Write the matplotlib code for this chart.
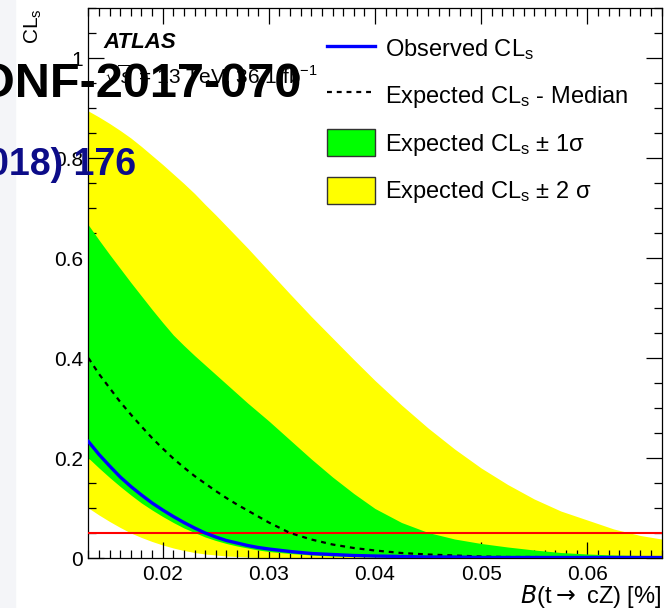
import matplotlib
matplotlib.use('Agg')
import matplotlib.pyplot as plt
from matplotlib.lines import Line2D
from matplotlib.patches import Patch, Rectangle
from matplotlib.ticker import MultipleLocator, FixedLocator, FixedFormatter

plt.rcParams['font.family'] = ['Liberation Sans', 'DejaVu Sans']
plt.rcParams['mathtext.fontset'] = 'custom'
plt.rcParams['mathtext.rm'] = 'Liberation Sans'
plt.rcParams['mathtext.it'] = 'Liberation Sans:italic'
plt.rcParams['mathtext.bf'] = 'Liberation Sans:bold'

# B(t -> cZ) [%] grid and CLs values
br = [0.013, 0.014, 0.015, 0.016, 0.017, 0.018, 0.019, 0.020, 0.021, 0.022,
      0.023, 0.024, 0.025, 0.026, 0.027, 0.028, 0.029, 0.030,
      0.032, 0.034, 0.036, 0.038, 0.040,
      0.0425, 0.045, 0.0475, 0.050, 0.0525, 0.055, 0.0575, 0.060, 0.0625, 0.065,
      0.067]
cls_obs = [0.233, 0.207, 0.184, 0.162, 0.143, 0.126, 0.110, 0.096, 0.083, 0.071,
           0.060, 0.050, 0.042, 0.035, 0.030, 0.025, 0.021, 0.018,
           0.013, 0.009, 0.007, 0.005, 0.004,
           0.003, 0.002, 0.002, 0.001, 0.001, 0.001, 0.001, 0.001, 0.001, 0.001,
           0.001]
cls_exp = [0.400, 0.368, 0.340, 0.312, 0.287, 0.263, 0.240, 0.219, 0.199, 0.181,
           0.164, 0.149, 0.134, 0.120, 0.107, 0.095, 0.083, 0.071,
           0.050, 0.037, 0.027, 0.020, 0.015,
           0.010, 0.007, 0.005, 0.003, 0.002, 0.002, 0.001, 0.001, 0.001, 0.001,
           0.001]
cls_p1 = [0.666, 0.636, 0.607, 0.579, 0.551, 0.524, 0.497, 0.471, 0.446, 0.425,
          0.405, 0.386, 0.367, 0.348, 0.329, 0.310, 0.292, 0.274,
          0.236, 0.198, 0.162, 0.129, 0.099,
          0.071, 0.051, 0.038, 0.029, 0.022, 0.016, 0.011, 0.008, 0.006, 0.005,
          0.004]
cls_m1 = [0.200, 0.180, 0.161, 0.143, 0.126, 0.110, 0.096, 0.083, 0.071, 0.060,
          0.051, 0.042, 0.035, 0.029, 0.024, 0.020, 0.016, 0.013,
          0.009, 0.006, 0.004, 0.003, 0.002,
          0.001, 0.001, 0.0, 0.0, 0.0, 0.0, 0.0, 0.0, 0.0, 0.0,
          0.0]
cls_p2 = [0.894, 0.882, 0.869, 0.855, 0.840, 0.823, 0.805, 0.787, 0.768, 0.749,
          0.729, 0.707, 0.686, 0.664, 0.642, 0.620, 0.597, 0.574,
          0.528, 0.483, 0.440, 0.397, 0.355,
          0.306, 0.260, 0.218, 0.180, 0.147, 0.118, 0.094, 0.076, 0.058, 0.045,
          0.038]
cls_m2 = [0.100, 0.086, 0.073, 0.061, 0.050, 0.041, 0.033, 0.026, 0.020, 0.015,
          0.011, 0.008, 0.006, 0.004, 0.003, 0.002, 0.001, 0.001,
          0.0, 0.0, 0.0, 0.0, 0.0,
          0.0, 0.0, 0.0, 0.0, 0.0, 0.0, 0.0, 0.0, 0.0, 0.0,
          0.0]
cl_line = 0.05

yticks = [0, 0.2, 0.4, 0.6, 0.8, 1.0]
ytick_labels = ['0', '0.2', '0.4', '0.6', '0.8', '1']
xticks = [0.02, 0.03, 0.04, 0.05, 0.06]
xtick_labels = ['0.02', '0.03', '0.04', '0.05', '0.06']

fig = plt.figure(figsize=(6.68, 6.08), dpi=100)
W, H = 668.0, 608.0
ax = fig.add_axes([88.4 / W, 50 / H, 573.2 / W, 550 / H])

# light strip on the far left
fig.patches.append(Rectangle((0, 0), 15 / W, 1, transform=fig.transFigure,
                             color='#f4f5f8', zorder=-5))

ax.fill_between(br, cls_m2, cls_p2, color='#ffff00', linewidth=0, zorder=1)
ax.fill_between(br, cls_m1, cls_p1, color='#00ff00', linewidth=0, zorder=2)
ax.axhline(cl_line, color='#ff0000', linewidth=1.5, zorder=3)
ax.plot(br, cls_exp, color='black', linewidth=1.6, linestyle=(0, (2.2, 2.2)), zorder=4)
ax.plot(br, cls_obs, color='#0000ff', linewidth=2.4, zorder=5)

ax.set_xlim(0.013, 0.067)
ax.set_ylim(0, 1.1)
ax.xaxis.set_major_locator(FixedLocator(xticks))
ax.xaxis.set_major_formatter(FixedFormatter(xtick_labels))
ax.xaxis.set_minor_locator(MultipleLocator(0.001))
ax.yaxis.set_major_locator(FixedLocator(yticks))
ax.yaxis.set_major_formatter(FixedFormatter(ytick_labels))
ax.yaxis.set_minor_locator(MultipleLocator(0.05))

ax.tick_params(which='both', direction='in', top=True, right=True, width=0.9)
ax.tick_params(which='major', length=11.5)
ax.tick_params(which='minor', length=5.8)
ax.tick_params(axis='x', labelsize=15, pad=5)
ax.tick_params(axis='y', labelsize=15, pad=4)
for s in ax.spines.values():
    s.set_linewidth(0.9)

ax.set_xlabel(r'$\mathit{B}$(t$\rightarrow$ cZ) [%]', fontsize=17, loc='right',
              labelpad=-1, math_fontfamily='dejavusans')
ax.set_ylabel(r'CL$_{\rm s}$', fontsize=15, loc='top', labelpad=7)

# ATLAS label
fig.text(103 / W, 1 - 48 / H, 'ATLAS', fontsize=16, fontweight='bold',
         fontstyle='italic')
fig.text(104 / W, 1 - 83 / H, r'$\sqrt{s}$ = 13 TeV, 36.1 fb$^{-1}$', fontsize=15)

handles = [
    Line2D([], [], color='#0000ff', linewidth=2.4),
    Line2D([], [], color='black', linewidth=1.6, linestyle=(0, (2.2, 2.2))),
    Patch(facecolor='#00ff00', edgecolor='#333333', linewidth=1),
    Patch(facecolor='#ffff00', edgecolor='#333333', linewidth=1),
]
labels = [r'Observed CL$_{\rm s}$', r'Expected CL$_{\rm s}$ - Median',
          'Expected CL$_{\\rm s}$ \u00b1 1\u03c3', 'Expected CL$_{\\rm s}$ \u00b1 2 \u03c3']
fig.legend(handles, labels, loc='upper left', bbox_to_anchor=(327 / W, 1 - 35 / H),
           frameon=False, fontsize=17, borderpad=0, borderaxespad=0,
           handlelength=2.03, handleheight=1.4, handletextpad=0.42, labelspacing=0.81)

# overlaid reference stamps
fig.text(-23 / W, 1 - 97 / H, 'ONF-2017-070', fontsize=35, fontweight='bold',
         color='black', zorder=10)
fig.text(-12 / W, 1 - 175 / H, '018) 176', fontsize=27, fontweight='bold',
         color='#0c0c88', zorder=10)

fig.savefig('out.png', dpi=100)
